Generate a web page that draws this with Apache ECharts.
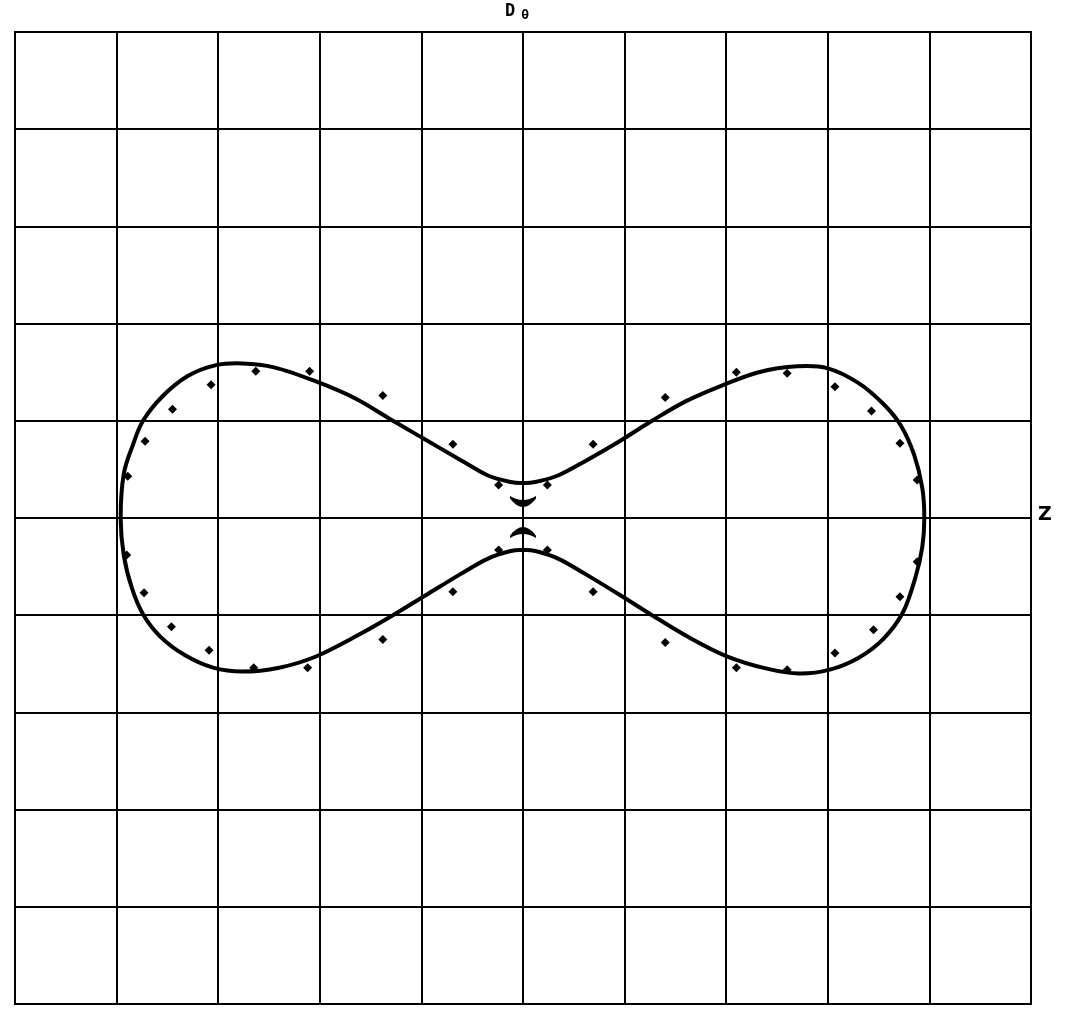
<!DOCTYPE html>
<html>
<head>
<meta charset="utf-8">
<script src="https://cdn.jsdelivr.net/npm/echarts@6/dist/echarts.min.js"></script>
<style>
  html, body { margin: 0; padding: 0; background: #fff; }
  #chart { width: 1071px; height: 1016px; }
</style>
</head>
<body>
<div id="chart"></div>
<script>
// Axis ranges (grid cells of one unit each)
const xRange = [-5, 5];
const yRange = [-5, 5];

// Fitted curve: upper branch, left to right
const curveUpper = [
  [-3.96, 0], [-3.93, 0.45], [-3.84, 0.75], [-3.74, 1.0], [-3.55, 1.25], [-3.3, 1.46],
  [-3.03, 1.57], [-2.76, 1.59], [-2.45, 1.55], [-2.05, 1.41], [-1.65, 1.23], [-1.28, 1.0],
  [-0.95, 0.8], [-0.62, 0.6], [-0.35, 0.44], [-0.12, 0.37], [0, 0.36], [0.12, 0.37],
  [0.35, 0.44], [0.62, 0.59], [0.95, 0.79], [1.27, 1.0], [1.6, 1.2], [1.95, 1.36],
  [2.32, 1.5], [2.7, 1.56], [3.0, 1.54], [3.3, 1.39], [3.55, 1.17], [3.72, 0.95],
  [3.85, 0.65], [3.93, 0.31], [3.95, 0]
];

// Fitted curve: lower branch, right to left
const curveLower = [
  [3.95, 0], [3.93, -0.3], [3.86, -0.62], [3.74, -0.97], [3.55, -1.24], [3.3, -1.44],
  [3.02, -1.56], [2.72, -1.6], [2.4, -1.55], [2.0, -1.42], [1.62, -1.22], [1.27, -1.0],
  [0.95, -0.79], [0.62, -0.58], [0.35, -0.42], [0.12, -0.34], [0, -0.33], [-0.12, -0.34],
  [-0.35, -0.42], [-0.62, -0.58], [-0.95, -0.79], [-1.28, -1.0], [-1.65, -1.22],
  [-2.05, -1.43], [-2.4, -1.54], [-2.76, -1.58], [-3.05, -1.54], [-3.33, -1.41],
  [-3.57, -1.22], [-3.74, -0.99], [-3.85, -0.72], [-3.93, -0.38], [-3.96, 0]
];

// Measured points
const measuredUpper = [
  [-3.89, 0.43], [-3.72, 0.79], [-3.45, 1.12], [-3.07, 1.37], [-2.63, 1.51], [-2.1, 1.51],
  [-1.38, 1.26], [-0.69, 0.76], [-0.24, 0.34], [0.24, 0.34], [0.69, 0.76], [1.4, 1.24],
  [2.1, 1.5], [2.6, 1.49], [3.07, 1.35], [3.43, 1.1], [3.71, 0.77], [3.88, 0.39]
];
const measuredLower = [
  [-3.9, -0.38], [-3.73, -0.77], [-3.46, -1.12], [-3.09, -1.36], [-2.65, -1.54], [-2.12, -1.54],
  [-1.38, -1.25], [-0.69, -0.76], [-0.24, -0.33], [0.24, -0.33], [0.69, -0.76], [1.4, -1.28],
  [2.1, -1.54], [2.6, -1.56], [3.07, -1.39], [3.45, -1.15], [3.71, -0.81], [3.88, -0.45]
];

// Points on the axis near the waist
const axisPointUpper = [[0, 0.17]];
const axisPointLower = [[0, -0.15]];

// Closed loop (the shared end points are dropped once)
const curveLoop = curveUpper.concat(curveLower.slice(1, -1));

// Closed Catmull-Rom spline through the loop, in pixel space
function loopPath(api) {
  const p = curveLoop.map(d => api.coord(d));
  const n = p.length;
  let d = 'M' + p[0][0] + ',' + p[0][1];
  for (let i = 0; i < n; i++) {
    const p0 = p[(i - 1 + n) % n], p1 = p[i], p2 = p[(i + 1) % n], p3 = p[(i + 2) % n];
    const c1x = p1[0] + (p2[0] - p0[0]) / 6, c1y = p1[1] + (p2[1] - p0[1]) / 6;
    const c2x = p2[0] - (p3[0] - p1[0]) / 6, c2y = p2[1] - (p3[1] - p1[1]) / 6;
    d += 'C' + c1x + ',' + c1y + ' ' + c2x + ',' + c2y + ' ' + p2[0] + ',' + p2[1];
  }
  return d + 'Z';
}

const chart = echarts.init(document.getElementById('chart'), null, { renderer: 'canvas' });

const gridLine = { show: true, lineStyle: { color: '#000', width: 2 } };

chart.setOption({
  backgroundColor: '#fff',
  animation: false,
  grid: {
    left: 15, right: 40, top: 32, bottom: 12,
    show: true, borderColor: '#000', borderWidth: 2, backgroundColor: 'transparent'
  },
  xAxis: {
    type: 'value', min: xRange[0], max: xRange[1], interval: 1,
    axisLine: { show: false }, axisTick: { show: false }, axisLabel: { show: false },
    splitLine: gridLine
  },
  yAxis: {
    type: 'value', min: yRange[0], max: yRange[1], interval: 1,
    axisLine: { show: false }, axisTick: { show: false }, axisLabel: { show: false },
    splitLine: gridLine
  },
  graphic: [
    {
      type: 'text', left: 505, top: 3,
      style: {
        text: '{d|D}{s|θ}',
        rich: {
          d: { fontFamily: 'DejaVu Sans Mono', fontWeight: 'bold', fontSize: 17, fill: '#000' },
          s: { fontFamily: 'DejaVu Sans Mono', fontWeight: 'bold', fontSize: 13, fill: '#000', padding: [9, 0, 0, 6] }
        }
      }
    },
    {
      type: 'text', left: 1038, top: 506,
      style: { text: 'Z', fontFamily: 'DejaVu Sans', fontWeight: 'bold', fontSize: 19, fill: '#000' }
    }
  ],
  series: [
    {
      type: 'custom', data: [[0, 0]], z: 3,
      renderItem: (params, api) => ({
        type: 'path',
        shape: { pathData: loopPath(api) },
        style: { stroke: '#000', lineWidth: 4, fill: null }
      })
    },
    {
      type: 'scatter', data: measuredUpper.concat(measuredLower),
      symbol: 'diamond', symbolSize: 9, itemStyle: { color: '#000', opacity: 1 }, z: 4
    },
    {
      type: 'scatter', data: axisPointUpper,
      symbol: 'path://M0,0 Q13,10 26,0 L26,3 Q13,24 0,3 Z', symbolSize: [26, 11],
      itemStyle: { color: '#000', opacity: 1 }, z: 4
    },
    {
      type: 'scatter', data: axisPointLower,
      symbol: 'path://M0,13.5 Q13,3.5 26,13.5 L26,10.5 Q13,-10.5 0,10.5 Z', symbolSize: [26, 11],
      itemStyle: { color: '#000', opacity: 1 }, z: 4
    }
  ]
});
</script>
</body>
</html>
